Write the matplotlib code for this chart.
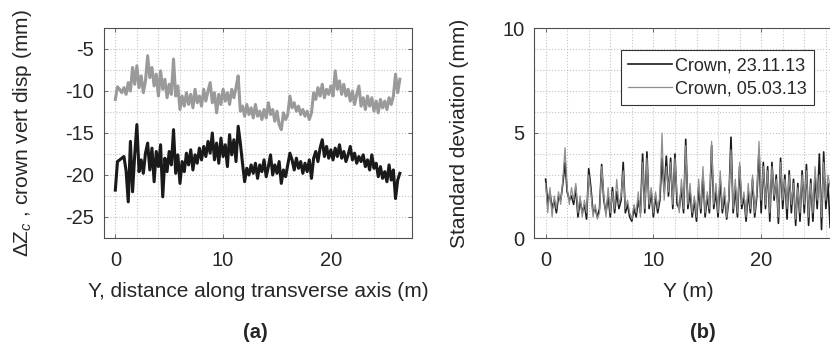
"""
Crown vertical displacement (a) and standard deviation (b) along transverse axis.
"""
import numpy as np
import matplotlib
matplotlib.use("Agg")
import matplotlib.pyplot as plt
from matplotlib.ticker import MultipleLocator

# ---- data ----
STEP = 0.2  # sampling interval along Y (m)

# (a) crown vertical displacement, mm
disp_gray = [
    -11.0, -9.5, -9.8, -10.2, -9.6, -10.4, -9.0, -10.0, -7.2, -9.2,
    -7.0, -9.6, -8.2, -10.2, -8.8, -5.8, -8.4, -7.2, -9.4, -8.0,
    -10.6, -7.6, -9.8, -8.6, -10.8, -9.2, -10.4, -6.2, -10.6, -9.4,
    -12.2, -10.6, -11.8, -10.2, -11.6, -10.4, -12.0, -9.8, -11.4, -10.6,
    -11.8, -9.8, -11.2, -10.0, -9.0, -11.4, -10.2, -12.6, -10.4, -11.6,
    -9.8, -11.2, -10.2, -11.6, -9.8, -10.8, -9.6, -8.2, -12.4, -11.8,
    -13.0, -11.6, -12.8, -12.0, -13.2, -11.6, -13.0, -12.4, -13.4, -12.2,
    -13.2, -11.4, -12.8, -12.2, -13.6, -12.4, -14.0, -14.6, -12.6, -13.4,
    -12.8, -10.6, -12.0, -11.4, -12.4, -11.8, -12.8, -12.2, -13.0, -12.4,
    -13.4, -12.6, -10.2, -11.0, -9.6, -10.6, -9.2, -10.8, -9.8, -10.4,
    -9.4, -10.6, -7.6, -9.8, -8.8, -10.4, -9.2, -10.6, -9.8, -11.2,
    -10.0, -11.6, -10.4, -9.4, -11.8, -10.8, -12.2, -10.6, -11.8, -10.8,
    -12.4, -11.2, -12.6, -11.0, -12.0, -11.2, -12.2, -10.8, -11.6, -10.6,
    -8.0, -10.2, -8.6,
]
disp_black = [
    -21.8, -18.4, -18.2, -18.0, -17.8, -19.5, -23.2, -16.0, -22.0, -17.6,
    -14.0, -19.6, -18.2, -19.8, -17.4, -16.2, -19.4, -16.8, -20.8, -17.2,
    -19.0, -16.4, -22.6, -18.0, -19.6, -17.2, -18.8, -14.6, -19.8, -17.6,
    -21.0, -18.4, -19.6, -17.4, -18.8, -17.0, -19.4, -17.6, -18.6, -16.8,
    -18.2, -16.6, -17.8, -16.0, -17.4, -15.0, -18.2, -16.2, -18.6, -15.6,
    -17.8, -16.4, -19.0, -15.2, -17.6, -15.8, -18.4, -14.2, -16.2, -18.6,
    -20.8, -19.2, -20.0, -18.8, -19.8, -18.6, -20.4, -18.8, -19.6, -18.2,
    -20.2, -19.0, -17.6, -20.0, -18.8, -19.8, -18.4, -21.0, -19.4, -20.2,
    -18.8, -17.4, -18.2, -19.4, -18.0, -19.2, -18.4, -19.8, -18.6, -19.6,
    -18.2, -20.4, -18.0, -17.2, -18.4, -16.8, -15.8, -17.8, -16.6, -18.0,
    -17.0, -18.2, -16.8, -17.8, -16.4, -18.0, -17.2, -18.4, -17.6, -16.6,
    -18.2, -17.4, -18.6, -17.8, -18.4, -17.6, -19.0, -18.2, -19.4, -17.6,
    -19.2, -18.6, -20.2, -19.0, -20.4, -19.6, -20.8, -18.8, -20.6, -19.4,
    -22.8, -20.6, -19.8,
]

# (b) standard deviation, mm
std_nov = [
    2.8, 1.6, 2.2, 1.4, 1.8, 1.2, 2.0, 1.8, 2.6, 3.6,
    2.2, 1.8, 2.0, 1.6, 2.4, 1.0, 1.8, 1.2, 1.6, 0.9,
    3.3, 2.4, 1.2, 1.4, 1.0, 1.4, 3.5, 1.8, 1.2, 2.0,
    1.0, 2.4, 1.2, 2.2, 1.4, 1.8, 3.6, 1.2, 1.6, 1.0,
    0.8, 1.4, 1.0, 1.8, 1.2, 4.0, 1.2, 4.1, 1.4, 2.2,
    1.0, 2.0, 1.2, 1.8, 3.8, 2.2, 3.9, 2.0, 3.8, 1.4,
    4.0, 1.6, 1.4, 2.4, 1.2, 4.7, 1.4, 2.2, 1.0, 1.8,
    0.8, 2.4, 1.2, 3.0, 1.0, 2.0, 1.2, 4.4, 1.4, 2.2,
    1.0, 2.8, 1.2, 2.0, 0.9, 1.8, 4.8, 1.2, 2.4, 1.0,
    3.4, 1.4, 2.0, 0.8, 2.2, 1.2, 2.8, 1.0, 2.0, 4.2,
    1.2, 3.6, 1.4, 3.4, 0.8, 3.6, 1.8, 3.0, 0.7, 3.8,
    1.4, 3.0, 0.9, 3.2, 1.2, 2.8, 0.6, 2.6, 0.8, 3.2,
    1.2, 3.5, 0.6, 2.8, 0.8, 3.0, 1.4, 4.0, 0.4, 4.1,
    1.4, 2.6, 0.5,
]
std_mar = [
    2.6, 1.2, 2.4, 1.0, 2.0, 1.4, 2.2, 1.6, 2.8, 4.3,
    2.4, 1.6, 2.4, 1.8, 2.6, 1.2, 2.0, 1.0, 1.8, 1.2,
    3.0, 2.2, 1.0, 1.6, 0.9, 1.2, 3.4, 2.0, 1.0, 2.4,
    1.2, 2.2, 1.4, 2.8, 1.6, 2.0, 3.2, 1.4, 1.8, 1.2,
    0.9, 1.6, 1.2, 2.2, 1.0, 3.6, 1.4, 3.8, 1.6, 2.4,
    1.2, 2.2, 1.4, 2.0, 5.0, 1.8, 3.4, 2.2, 3.6, 1.6,
    3.8, 2.0, 1.2, 2.8, 1.4, 4.4, 1.6, 2.6, 1.2, 2.0,
    1.0, 2.8, 1.4, 3.4, 1.2, 2.2, 1.4, 4.6, 1.6, 2.6,
    1.2, 3.2, 1.4, 2.4, 1.0, 2.0, 4.2, 1.4, 2.8, 1.2,
    3.6, 1.6, 2.2, 1.0, 2.6, 1.4, 3.0, 1.2, 2.2, 4.6,
    1.8, 3.4, 1.6, 3.2, 1.2, 3.4, 2.0, 2.8, 1.0, 3.6,
    1.8, 2.8, 1.4, 3.0, 1.6, 2.6, 0.9, 2.4, 1.2, 3.0,
    1.6, 3.2, 1.0, 2.6, 1.2, 3.4, 1.8, 3.0, 1.0, 3.6,
    1.8, 3.0, 2.4,
]
legend_labels = ["Crown, 23.11.13", "Crown, 05.03.13"]

y_pos = np.arange(len(disp_gray)) * STEP

# ---- style ----
INK = "#262626"
GRIDC = "#c4c4c4"
DARK = "#1a1a1a"
GRAY = "#9a9a9a"

plt.rcParams.update({
    "font.family": ["Liberation Sans", "DejaVu Sans"],
    "font.size": 15,
    "text.color": INK,
    "axes.labelcolor": INK,
    "axes.unicode_minus": False,
    "xtick.color": INK, "ytick.color": INK,
    "mathtext.fontset": "custom",
    "mathtext.rm": "Liberation Sans",
    "mathtext.it": "Liberation Sans:italic",
})

W, H = 830, 348
fig = plt.figure(figsize=(W / 100, H / 100), dpi=100)
ax1 = fig.add_axes([104 / W, 1 - 238 / H, 307.7 / W, 210 / H])
ax2 = fig.add_axes([534.3 / W, 1 - 238 / H, 307.7 / W, 210 / H])


def style(ax, ymaj, ymin):
    ax.set_xlim(-1.05, 27.5)
    ax.xaxis.set_major_locator(MultipleLocator(10))
    ax.xaxis.set_minor_locator(MultipleLocator(2))
    ax.yaxis.set_major_locator(MultipleLocator(ymaj))
    ax.yaxis.set_minor_locator(MultipleLocator(ymin))
    ax.grid(which="both", color=GRIDC, ls=":", lw=0.8)
    ax.set_axisbelow(True)
    ax.tick_params(which="both", direction="in", top=True, right=True,
                   length=3, width=0.6, color="#555555", labelsize=14.5)
    ax.tick_params(which="minor", length=0)
    ax.tick_params(axis="x", pad=9)
    ax.tick_params(axis="y", pad=7)
    for s in ax.spines.values():
        s.set_color("#505050")
        s.set_linewidth(0.8)


# (a)
ax1.plot(y_pos, disp_gray, color=GRAY, lw=2.2)
ax1.plot(y_pos, disp_black, color=DARK, lw=2.2)
ax1.set_ylim(-27.5, -2.5)
style(ax1, 5, 2.5)
ax1.set_yticks([-25, -20, -15, -10, -5])
ax1.set_xlabel("Y, distance along transverse axis (m)", va="center")
ax1.xaxis.set_label_coords(0.5, -0.257)
ax1.set_ylabel(r"$\Delta\mathrm{Z}_{c}$ , crown vert disp (mm)", va="center")
ax1.yaxis.set_label_coords(-0.266, 0.5)

# (b)
ax2.plot(y_pos, std_nov, color=DARK, lw=1.2, label=legend_labels[0])
ax2.plot(y_pos, std_mar, color="#8e8e8e", lw=0.9, label=legend_labels[1])
ax2.set_ylim(0, 10)
style(ax2, 5, 1)
ax2.set_xlabel("Y (m)", va="center")
ax2.xaxis.set_label_coords(0.5, -0.257)
ax2.set_ylabel("Standard deviation (mm)", va="center")
ax2.yaxis.set_label_coords(-0.2415, 0.5)
leg = ax2.legend(loc="upper right", bbox_to_anchor=(0.91, 0.895),
                 borderaxespad=0, fontsize=13, handlelength=2.4,
                 handletextpad=0.2, fancybox=False, framealpha=1,
                 edgecolor="#333333", borderpad=0.4, labelspacing=0.35)
leg.get_frame().set_linewidth(0.8)

fig.text(255 / W, 1 - 333 / H, "(a)", ha="center", va="center",
         fontsize=14.5, fontweight="bold")
fig.text(703 / W, 1 - 333 / H, "(b)", ha="center", va="center",
         fontsize=14.5, fontweight="bold")

fig.savefig("out.png", dpi=100, facecolor="white")
